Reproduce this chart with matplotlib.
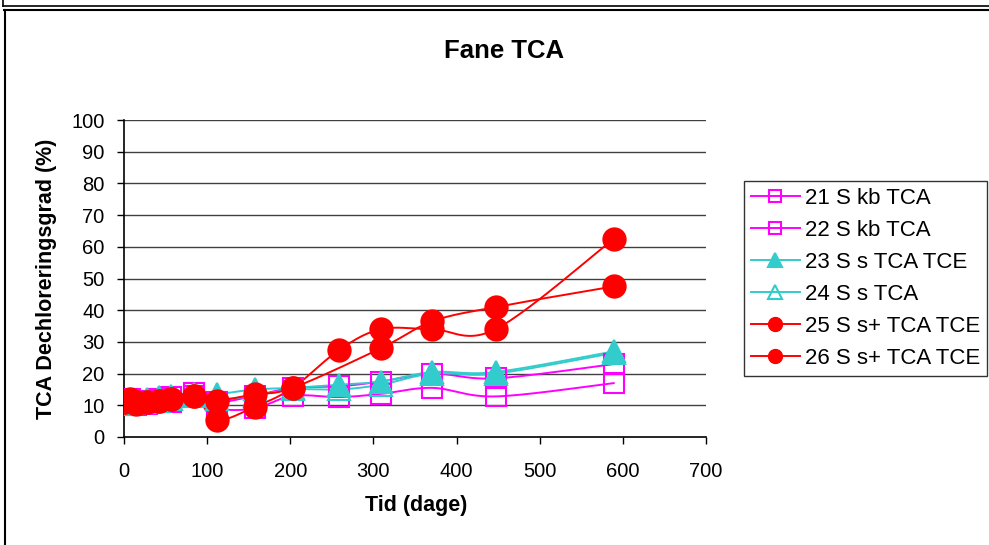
import numpy as np
import matplotlib
matplotlib.use("Agg")
import matplotlib.pyplot as plt
from matplotlib.lines import Line2D

plt.rcParams['font.family'] = ['Liberation Sans', 'DejaVu Sans']

# ---- data ----
t_all = [0, 7, 14, 28, 42, 56, 84, 112, 157, 203, 259, 309, 371, 447, 589]
t_26 = [0, 7, 14, 28, 42, 56, 84, 112, 157, 203, 309, 371, 447, 589]

s21 = [11, 12, 11, 11.5, 12, 12.5, 14, 11, 13, 15.5, 16, 17.5, 20, 18.5, 23]
s22 = [10.5, 11, 10, 10.5, 11, 11, 13, 9, 9, 13, 12.6, 13.6, 15.5, 12.8, 17]
s23 = [11, 12, 11.5, 12, 12.5, 13, 13.5, 13.5, 15, 15.5, 16.5, 17.5, 20.5, 20.5, 27]
s24 = [10.5, 11, 11, 11, 11.5, 12, 13, 12, 13, 15, 15, 16.5, 20, 20, 26.5]
s25 = [11, 11.5, 10.5, 11, 11.5, 12, 13, 5.5, 9.5, 15.5, 27.5, 34, 34, 34, 62.5]
s26 = [11, 12, 11, 11, 11.5, 12, 13, 11.5, 13.5, 15.5, 28, 36.5, 41, 47.5]

labels = ["21 S kb TCA", "22 S kb TCA", "23 S s TCA TCE", "24 S s TCA",
          "25 S s+ TCA TCE", "26 S s+ TCA TCE"]

xticks = [0, 100, 200, 300, 400, 500, 600, 700]
yticks = list(range(0, 101, 10))

MAG = '#FF00FF'
CYA = '#33CCCC'
RED = '#FF0000'


def smooth(x, y, n=30):
    """Excel-style smoothed line (Bezier with Catmull-Rom tangents)."""
    x = np.asarray(x, float)
    y = np.asarray(y, float)
    P = np.column_stack([x, y])
    out = []
    m = len(P)
    for i in range(m - 1):
        p0 = P[i - 1] if i > 0 else P[i]
        p1 = P[i]
        p2 = P[i + 1]
        p3 = P[i + 2] if i + 2 < m else P[i + 1]
        c1 = p1 + (p2 - p0) / 6.0
        c2 = p2 - (p3 - p1) / 6.0
        s = np.linspace(0, 1, n)[:, None]
        seg = ((1 - s) ** 3) * p1 + 3 * ((1 - s) ** 2) * s * c1 + \
            3 * (1 - s) * s ** 2 * c2 + s ** 3 * p2
        out.append(seg if i == 0 else seg[1:])
    c = np.vstack(out)
    return c[:, 0], c[:, 1]


W, H = 989, 545
fig = plt.figure(figsize=(W / 100, H / 100), dpi=100)

# outer frames
def fl(x0, y0, x1, y1, **kw):
    fig.add_artist(Line2D([x0 / W, x1 / W], [1 - y0 / H, 1 - y1 / H],
                          transform=fig.transFigure, **kw))

fl(3, 0, 3, 6, color='black', lw=1.2)
fl(3, 6, W, 6, color='black', lw=1.2)
fl(4, 10, W, 10, color='black', lw=1.5)
fl(4.5, 10, 4.5, H, color='black', lw=1.5)

ax = fig.add_axes([124 / W, (H - 437) / H, 582 / W, 317 / H])
ax.set_xlim(0, 700)
ax.set_ylim(0, 100)

for yv in yticks[1:]:
    ax.axhline(yv, color='#404040', lw=1.0, zorder=0)

series = [
    (t_all, s21, MAG, 's', 'none', 15),
    (t_all, s22, MAG, 's', 'none', 15),
    (t_all, s24, CYA, '^', 'none', 16),
    (t_all, s23, CYA, '^', CYA, 16),
    (t_all, s25, RED, 'o', RED, 16),
    (t_26, s26, RED, 'o', RED, 16),
]
for x, y, col, mk, fc, ms in series:
    xs, ys = smooth(x, y)
    ax.plot(xs, ys, color=col, lw=1.4, zorder=2)
    ax.plot(x, y, ls='none', marker=mk, ms=ms, mfc=fc, mec=col,
            mew=1.5, zorder=3)

for side in ['top', 'right']:
    ax.spines[side].set_visible(False)
for side in ['left', 'bottom']:
    ax.spines[side].set_color('black')
    ax.spines[side].set_linewidth(1.2)

ax.set_xticks(xticks)
ax.set_yticks(yticks)
ax.tick_params(axis='both', direction='out', length=5, width=1,
               labelsize=14.5, color='black')
ax.tick_params(axis='y', pad=9)
ax.tick_params(axis='x', pad=13)

fig.text(504 / W, 1 - 51 / H, "Fane TCA", ha='center', va='center',
         fontsize=18.5, fontweight='bold')
fig.text(416 / W, 1 - 506 / H, "Tid (dage)", ha='center', va='center',
         fontsize=15.5, fontweight='bold')
fig.text(47 / W, 1 - 279 / H, "TCA Dechloreringsgrad (%)", ha='center',
         va='center', rotation=90, fontsize=15.5, fontweight='bold')

handles = [
    Line2D([], [], color=MAG, lw=1.4, marker='s', ms=9, mfc='none', mec=MAG, mew=1.5),
    Line2D([], [], color=MAG, lw=1.4, marker='s', ms=9, mfc='none', mec=MAG, mew=1.5),
    Line2D([], [], color=CYA, lw=1.4, marker='^', ms=10, mfc=CYA, mec=CYA, mew=1.5),
    Line2D([], [], color=CYA, lw=1.4, marker='^', ms=10, mfc='none', mec=CYA, mew=1.5),
    Line2D([], [], color=RED, lw=1.4, marker='o', ms=10, mfc=RED, mec=RED),
    Line2D([], [], color=RED, lw=1.4, marker='o', ms=10, mfc=RED, mec=RED),
]
leg = fig.legend(handles, labels, loc='upper left',
                 bbox_to_anchor=(744 / W, 1 - 181 / H),
                 fontsize=16, frameon=True, fancybox=False,
                 edgecolor='black', handlelength=2.2, handletextpad=0.25,
                 labelspacing=0.5, borderpad=0.3, borderaxespad=0)
leg.get_frame().set_linewidth(1.0)

fig.savefig("out.png", dpi=100)
